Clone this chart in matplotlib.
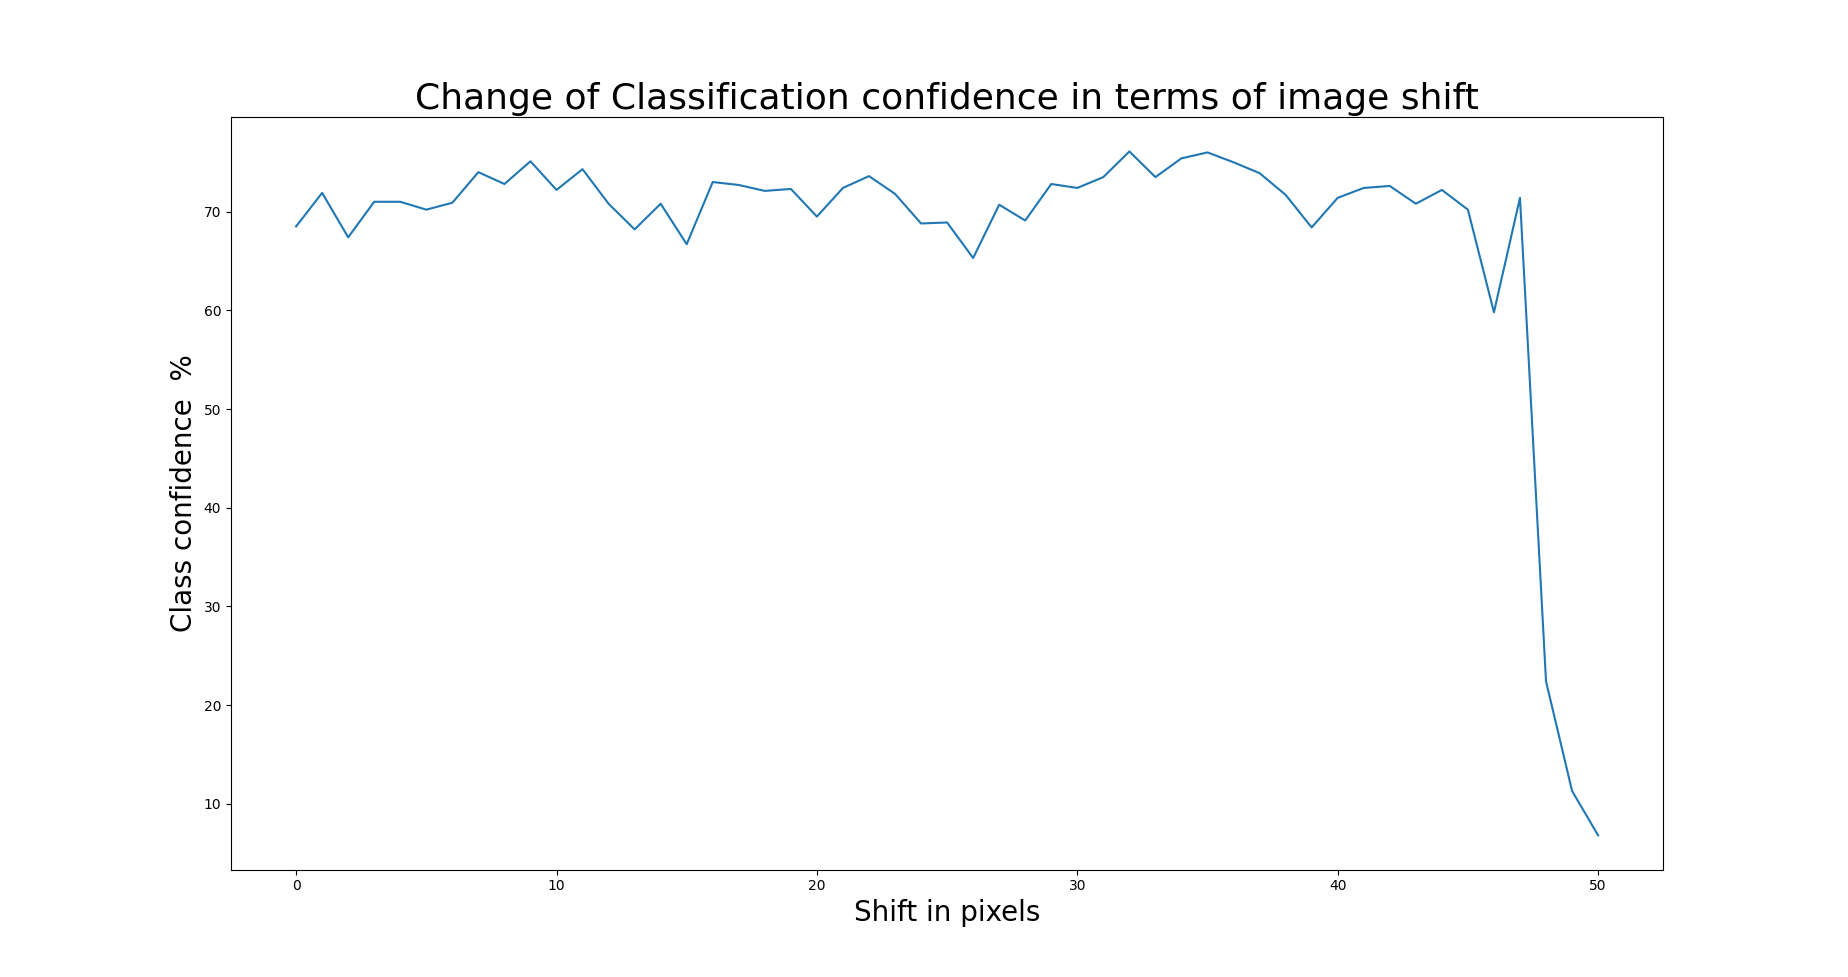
import numpy as np
import matplotlib
matplotlib.use('Agg')
import matplotlib.pyplot as plt


# shift in pixels 0..50
shifts = list(range(51))
# classification confidence (%)
confidence = [68.5, 71.9, 67.4, 71.0, 71.0, 70.2, 70.9, 74.0, 72.8, 75.1,
              72.2, 74.3, 70.8, 68.2, 70.8, 66.7, 73.0, 72.7, 72.1, 72.3,
              69.5, 72.4, 73.6, 71.8, 68.8, 68.9, 65.3, 70.7, 69.1, 72.8,
              72.4, 73.5, 76.1, 73.5, 75.4, 76.0, 75.0, 73.9, 71.7, 68.4,
              71.4, 72.4, 72.6, 70.8, 72.2, 70.2, 59.8, 71.4, 22.4, 11.3,
              6.8]


def plot_shift(write_path):
    fig = plt.figure(figsize=(18.48, 9.77), dpi=100)
    plt.plot(shifts, confidence)
    plt.title('Change of Classification confidence in terms of image shift', size=26)
    plt.xlabel('Shift in pixels', size=20)
    plt.ylabel('Class confidence  %', size=20)
    fig.savefig(write_path, dpi=100)


def main():
    plot_shift('out.png')


if __name__ == '__main__':
    main()
